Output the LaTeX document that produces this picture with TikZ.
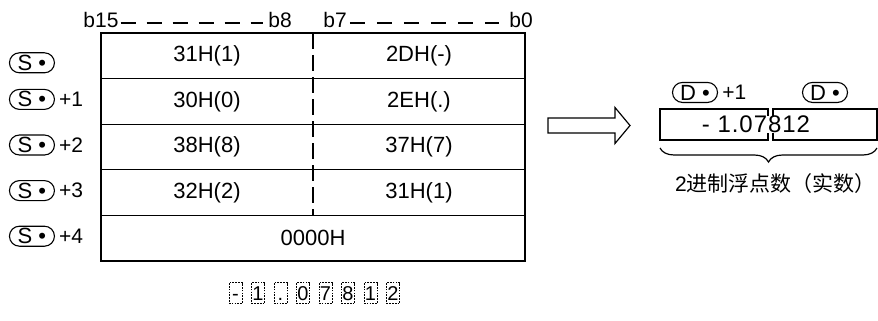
\documentclass[tikz,border=0pt]{standalone}
\usepackage{fontspec}
\setmainfont{Liberation Sans}
\newfontfamily\cjk{Noto Sans CJK SC}
\usetikzlibrary{positioning,calc,decorations.pathreplacing}

\begin{document}
\begin{tikzpicture}[x=1pt, y=-1pt, font=\fontsize{22}{26}\selectfont,
  row/.style={draw, line width=1.3pt, minimum width=424pt, minimum height=45.6pt, inner sep=0pt, outer sep=0pt},
  half/.style={minimum width=212pt, minimum height=45.6pt, inner sep=0pt, outer sep=0pt},
  oval/.style={draw, line width=1.1pt, rounded corners=10pt, minimum width=45pt, minimum height=20pt, inner sep=0pt},
  plus/.style={inner sep=0pt, font=\fontsize{21}{25}\selectfont},
  bit/.style={inner sep=0pt, font=\fontsize{21}{25}\selectfont},
  res/.style={draw, line width=1.3pt, minimum height=31pt, inner sep=0pt, outer sep=0pt},
  digit/.style={draw, line width=1pt, dash pattern=on 1.6pt off 1.2pt, minimum width=13pt, minimum height=21pt, text height=14pt, text depth=0pt, inner sep=0pt, outer sep=0pt, font=\fontsize{20}{23}\selectfont}]
  \useasboundingbox (0,0) rectangle (878,321);

  % word table
  \node[row] (w0) at (313,55.8) {};
  \node[row, below=0pt of w0] (w1) {};
  \node[row, below=0pt of w1] (w2) {};
  \node[row, below=0pt of w2] (w3) {};
  \node[row, below=0pt of w3] (w4) {0000H};
  \node[half, anchor=west] (h0) at (w0.west) {31H(1)};
  \node[half, anchor=east] (l0) at (w0.east) {2DH(-)};
  \node[half, anchor=west] (h1) at (w1.west) {30H(0)};
  \node[half, anchor=east] (l1) at (w1.east) {2EH(.)};
  \node[half, anchor=west] (h2) at (w2.west) {38H(8)};
  \node[half, anchor=east] (l2) at (w2.east) {37H(7)};
  \node[half, anchor=west] (h3) at (w3.west) {32H(2)};
  \node[half, anchor=east] (l3) at (w3.east) {31H(1)};
  \draw[line width=1.3pt, dash pattern=on 16pt off 6pt] (w0.north) -- (w3.south);

  % bit numbers
  \node[bit] (b15) at ([yshift=13pt]w0.north west) {b15};
  \node[bit] (b8) at ([xshift=-33pt,yshift=13pt]w0.north) {b8};
  \node[bit] (b7) at ([xshift=22pt,yshift=13pt]w0.north) {b7};
  \node[bit] (b0) at ([xshift=-4pt,yshift=13pt]w0.north east) {b0};
  \draw[line width=1.2pt, dash pattern=on 15pt off 11pt] ([xshift=2pt,yshift=-3pt]b15.east) -- ([xshift=-5pt,yshift=-3pt]b8.west);
  \draw[line width=1.2pt, dash pattern=on 15pt off 12pt] ([xshift=3pt,yshift=-3pt]b7.east) -- ([xshift=-10pt,yshift=-3pt]b0.west);

  % source labels
  \node[oval, left=46pt of w0.west, yshift=-7pt] (s0) {S •};
  \node[oval, left=46pt of w1.west, yshift=2pt] (s1) {S •};
  \node[oval, left=46pt of w2.west, yshift=2pt] (s2) {S •};
  \node[oval, left=46pt of w3.west, yshift=2pt] (s3) {S •};
  \node[oval, left=46pt of w4.west, yshift=2pt] (s4) {S •};
  \node[plus, right=4pt of s1] (p1) {+1};
  \node[plus, right=4pt of s2] (p2) {+2};
  \node[plus, right=4pt of s3] (p3) {+3};
  \node[plus, right=4pt of s4] (p4) {+4};

  % conversion arrow
  \draw[line width=1.2pt] (548,118) -- (615,118) -- (615,107.5) -- (630,125.5)
    -- (615,143.5) -- (615,133) -- (548,133) -- cycle;

  % result
  \node[res, minimum width=108pt] (dh) at (714,124.5) {};
  \node[res, minimum width=104pt, right=5pt of dh] (dl) {};
  \node[fill=white, inner xsep=1pt, inner ysep=0.5pt, font=\fontsize{24}{28}\selectfont\addfontfeature{LetterSpace=4}] (val) at (756,124.5) {- 1.07812};
  \node[oval, above=6pt of dh, xshift=-19pt] (d1) {D •};
  \node[plus, right=4pt of d1] (p5) {+1};
  \node[oval, above=6pt of dl] (d0) {D •};
  \draw[line width=1.2pt, decorate, decoration={brace, amplitude=14pt, mirror}]
    ([yshift=-8pt]dh.south west) -- ([yshift=-8pt]dl.south east);
  \node[inner sep=0pt, anchor=east, font=\fontsize{21}{25}\selectfont] (cap) at (876,184) {2{\cjk 进制浮点数（实数）}};

  % character digits
  \node[digit] (g1) at (235.5,293) {-};
  \node[digit, right=9.5pt of g1] (g2) {1};
  \node[digit, right=9.5pt of g2] (g3) {.};
  \node[digit, right=9.5pt of g3] (g4) {0};
  \node[digit, right=9.5pt of g4] (g5) {7};
  \node[digit, right=9.5pt of g5] (g6) {8};
  \node[digit, right=9.5pt of g6] (g7) {1};
  \node[digit, right=9.5pt of g7] (g8) {2};
\end{tikzpicture}
\end{document}
